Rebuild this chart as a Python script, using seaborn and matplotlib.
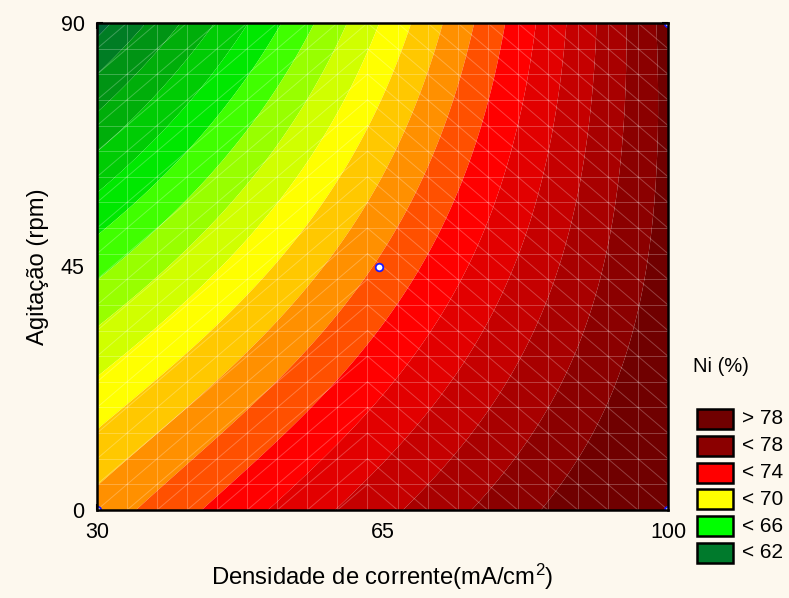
import numpy as np
import matplotlib
matplotlib.use("Agg")
import matplotlib.pyplot as plt
import seaborn as sns
import pandas as pd
from matplotlib.patches import Rectangle

# ---------------- data ----------------
density_levels = [30, 65, 100]          # current density, mA/cm2
agitation_levels = [0, 45, 90]          # agitation, rpm
# Ni (%) at the 3x3 design grid (rows = agitation)
ni_agit_0 = [71.4, 75.7, 79.8]
ni_agit_45 = [66.7, 72.2, 78.5]
ni_agit_90 = [60.6, 69.1, 78.4]
# experimental points shown as markers
point_density = [64.6, 30, 100, 100]
point_agitation = [45, 0, 0, 90]
x_ticks = [30, 65, 100]
y_ticks = [0, 45, 90]
legend_labels = ["> 78", "< 78", "< 74", "< 70", "< 66", "< 62"]

# ---------------- style ----------------
band_bounds = list(range(58, 79)) + [95]
band_colors = ['#005030', '#005a35', '#006636', '#007d24', '#009414', '#00ae0a',
               '#00cc04', '#00e800', '#40ff00', '#98ff00', '#d0ff00', '#ffff00',
               '#ffc800', '#ff9000', '#ff5000', '#ff0000', '#e20000', '#c50000',
               '#a80000', '#8b0000', '#700000']
legend_colors = ['#700000', '#8b0000', '#ff0000', '#ffff00', '#00ff00', '#007a2c']
bg = '#fdf8ee'

sns.set_theme(style="white")
plt.rcParams['font.family'] = ['Liberation Sans', 'DejaVu Sans']
plt.rcParams['mathtext.fontset'] = 'custom'
plt.rcParams['mathtext.rm'] = 'Liberation Sans'
plt.rcParams['mathtext.it'] = 'Liberation Sans'
plt.rcParams['text.color'] = 'black'
plt.rcParams['axes.labelcolor'] = 'black'
plt.rcParams['xtick.color'] = 'black'
plt.rcParams['ytick.color'] = 'black'

fig = plt.figure(figsize=(7.89, 5.98), dpi=100, facecolor=bg)
ax = fig.add_axes([97/789, 1-510/598, (668-97)/789, (510-23)/598])

# response surface through the read grid (biquadratic through 3x3 points)
grid = np.array([ni_agit_0, ni_agit_45, ni_agit_90])
xs = np.linspace(30, 100, 400)
ys = np.linspace(0, 90, 400)
XX, YY = np.meshgrid(xs, ys)

def lagr(v, nodes):
    out = []
    for i, ni in enumerate(nodes):
        t = np.ones_like(v)
        for j, nj in enumerate(nodes):
            if j != i:
                t = t * (v - nj) / (ni - nj)
        out.append(t)
    return out

Lx = lagr(XX, density_levels)
Ly = lagr(YY, agitation_levels)
ZZ = np.zeros_like(XX)
for i in range(3):
    for j in range(3):
        ZZ += grid[i, j] * Ly[i] * Lx[j]

ax.contourf(XX, YY, ZZ, levels=band_bounds, colors=band_colors, antialiased=True)

# faint mesh lines like the original wireframe
nx, ny = 19, 19
gx = np.linspace(30, 100, nx + 1)
gy = np.linspace(0, 90, ny + 1)
lk = dict(color='white', alpha=0.25, lw=0.7, zorder=1.5)
for v in gx[1:-1]:
    ax.plot([v, v], [0, 90], **lk)
for v in gy[1:-1]:
    ax.plot([30, 100], [v, v], **lk)
for i in range(nx):
    for j in range(ny):
        if i < nx // 2:
            ax.plot([gx[i], gx[i+1]], [gy[j], gy[j+1]], **lk)
        else:
            ax.plot([gx[i], gx[i+1]], [gy[j+1], gy[j]], **lk)

pts = pd.DataFrame({'d': point_density, 'a': point_agitation})
sns.scatterplot(data=pts, x='d', y='a', ax=ax, s=30, color='white',
                edgecolor='#1a1aff', linewidth=1.3, zorder=3, clip_on=True, legend=False)

ax.set_xlim(30, 100)
ax.set_ylim(0, 90)
ax.set_xticks(x_ticks)
ax.set_yticks(y_ticks)
ax.tick_params(direction='in', length=4, width=1.5, labelsize=15.5, colors='black',
               bottom=True, left=True, pad=9)
for s in ax.spines.values():
    s.set_color('black')
    s.set_linewidth(1.8)
    s.set_zorder(4)

sx = ax.secondary_xaxis('top')
sx.set_xticks(np.linspace(30, 100, 13))
sx.tick_params(direction='in', length=4, width=1.5, labeltop=False, top=True)
sx.set_xticklabels([])
sx.spines['top'].set_visible(False)
sy = ax.secondary_yaxis('right')
sy.set_yticks(np.linspace(0, 90, 13))
sy.tick_params(direction='in', length=4, width=1.5, labelright=False, right=True)
sy.set_yticklabels([])
sy.spines['right'].set_visible(False)

ax.set_xlabel('Densidade de corrente(mA/cm$^2$)', fontsize=17.2, labelpad=13, color='black')
ax.set_ylabel('Agitação (rpm)', fontsize=17.2, labelpad=8, color='black')

# legend
W, H = 789, 598
fig.text(693/W, 1-367/H, 'Ni (%)', fontsize=14.5, va='center', ha='left', color='black')
for k, (lab, col) in enumerate(zip(legend_labels, legend_colors)):
    ytop = 409 + k*26.8
    fig.add_artist(Rectangle((697/W, 1-(ytop+20)/H), 36/W, 20/H, transform=fig.transFigure,
                             facecolor=col, edgecolor='black', lw=1.8))
    fig.text(742/W, 1-(ytop+10)/H, lab, fontsize=15, va='center', ha='left', color='black')

fig.savefig('out.png', dpi=100, facecolor=bg)
